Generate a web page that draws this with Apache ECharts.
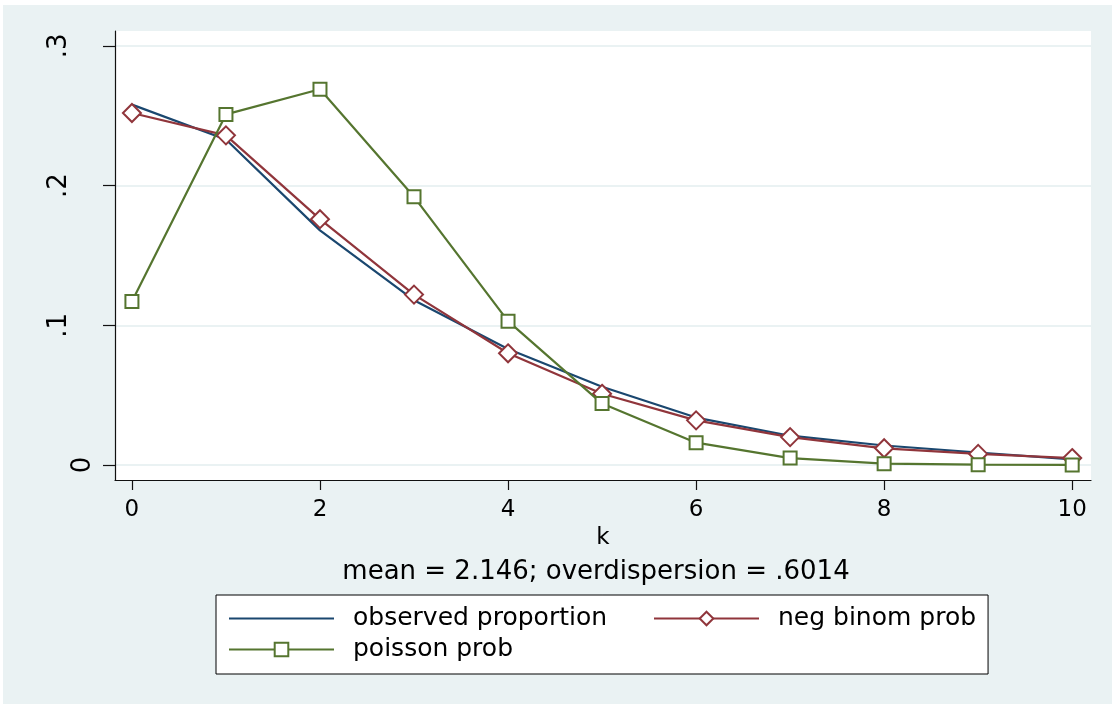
<!DOCTYPE html>
<html>
<head>
<meta charset="utf-8">
<script src="https://cdn.jsdelivr.net/npm/echarts@6/dist/echarts.min.js"></script>
<style>
  html, body { margin: 0; padding: 0; background: #ffffff; }
  #chart {
    width: 1112px; height: 705px; box-sizing: border-box;
    border-top: 5px solid #ffffff; border-left: 3px solid #ffffff; border-bottom: 1px solid #ffffff;
    background: #EAF2F3;
  }
</style>
</head>
<body>
<div id="chart"></div>
<script>
// ---- data ----
const k = [0, 1, 2, 3, 4, 5, 6, 7, 8, 9, 10];
const observedProportion = [0.258, 0.233, 0.168, 0.118, 0.083, 0.056, 0.034, 0.021, 0.014, 0.009, 0.004];
const negBinomProb      = [0.252, 0.236, 0.176, 0.122, 0.080, 0.051, 0.032, 0.020, 0.012, 0.008, 0.005];
const poissonProb       = [0.117, 0.251, 0.269, 0.192, 0.103, 0.044, 0.016, 0.005, 0.001, 0.0003, 0.0001];
const xTickValues = [0, 2, 4, 6, 8, 10];
const yTickValues = [0, 0.1, 0.2, 0.3];
const yTickLabels = ['0', '.1', '.2', '.3'];
const seriesNames = ['observed proportion', 'neg binom prob', 'poisson prob'];
const xTitle = 'k';
const note = 'mean = 2.146; overdispersion = .6014';

// ---- style ----
const FONT = 'DejaVu Sans';
const BLUE = '#1A476F', RED = '#90353B', GREEN = '#55752F';

const chart = echarts.init(document.getElementById('chart'), null, { renderer: 'canvas' });

function pairs(ys) { return k.map((x, i) => [x, ys[i]]); }

const option = {
  backgroundColor: 'transparent',
  animation: false,
  textStyle: { fontFamily: FONT, color: '#000' },
  grid: {
    left: 112, top: 26, right: 21, bottom: 224,
    show: true, backgroundColor: '#ffffff', borderWidth: 0
  },
  title: {
    text: note, left: 593, top: 554, padding: 0, textAlign: 'center',
    textStyle: { fontFamily: FONT, fontSize: 26, fontWeight: 'normal', color: '#000' }
  },
  xAxis: {
    type: 'value', min: -0.18, max: 10.2,
    name: xTitle, nameLocation: 'middle', nameGap: 43,
    nameTextStyle: { fontFamily: FONT, fontSize: 23, color: '#000' },
    axisLine: { show: true, onZero: false, lineStyle: { color: '#111', width: 1.2 } },
    axisTick: { show: true, customValues: xTickValues, length: 10, lineStyle: { color: '#111', width: 1.2 } },
    axisLabel: { customValues: xTickValues, fontFamily: FONT, fontSize: 23, color: '#000', margin: 19 },
    splitLine: { show: false }
  },
  yAxis: {
    type: 'value', min: -0.0107, max: 0.3107,
    axisLine: { show: true, onZero: false, lineStyle: { color: '#111', width: 1.2 } },
    axisTick: { show: true, customValues: yTickValues, length: 12, lineStyle: { color: '#111', width: 1.2 } },
    axisLabel: {
      customValues: yTickValues, rotate: 90, margin: 19,
      fontFamily: FONT, fontSize: 26, color: '#000',
      formatter: function (v) {
        let idx = 0, best = Infinity;
        yTickValues.forEach((t, i) => { const d = Math.abs(t - v); if (d < best) { best = d; idx = i; } });
        return idx === 0 ? '{z|' + yTickLabels[idx] + '}' : '{n|' + yTickLabels[idx] + '}';
      },
      rich: {
        z: { fontFamily: FONT, fontSize: 26, color: '#000' },
        n: { fontFamily: FONT, fontSize: 26, color: '#000', padding: [0, 0, 24, 0] }
      }
    },
    splitLine: { show: true, lineStyle: { color: '#EAF2F3', width: 2 } }
  },
  legend: {
    left: 213, top: 590, orient: 'horizontal',
    backgroundColor: '#ffffff', borderColor: '#000', borderWidth: 1, borderRadius: 0,
    padding: [11, 12, 12, 12], itemGap: 6, itemWidth: 105, itemHeight: 17,
    data: [
      { name: seriesNames[0], itemStyle: { opacity: 0 } },
      seriesNames[1],
      '',
      seriesNames[2]
    ],
    formatter: function (name) {
      return name === seriesNames[1] ? '{b|' + name + '}' : '{a|' + name + '}';
    },
    textStyle: {
      fontFamily: FONT, fontSize: 25, color: '#000',
      rich: {
        a: { fontFamily: FONT, fontSize: 25, color: '#000', width: 294, padding: [0, 0, 0, 14], lineHeight: 25 },
        b: { fontFamily: FONT, fontSize: 25, color: '#000', width: 198, padding: [0, 0, 0, 14], lineHeight: 25 }
      }
    }
  },
  series: [
    {
      name: seriesNames[0], type: 'line', data: pairs(observedProportion),
      symbol: 'none', color: BLUE,
      lineStyle: { color: BLUE, width: 2.2 }, z: 2
    },
    {
      name: seriesNames[1], type: 'line', data: pairs(negBinomProb),
      symbol: 'emptyDiamond', symbolSize: 18, color: RED,
      itemStyle: { color: RED, borderWidth: 2 },
      lineStyle: { color: RED, width: 2.2 }, z: 3
    },
    {
      name: seriesNames[2], type: 'line', data: pairs(poissonProb),
      symbol: 'emptyRect', symbolSize: 13, color: GREEN,
      itemStyle: { color: GREEN, borderWidth: 2 },
      lineStyle: { color: GREEN, width: 2.2 }, z: 4
    }
  ]
};
chart.setOption(option);
</script>
</body>
</html>
